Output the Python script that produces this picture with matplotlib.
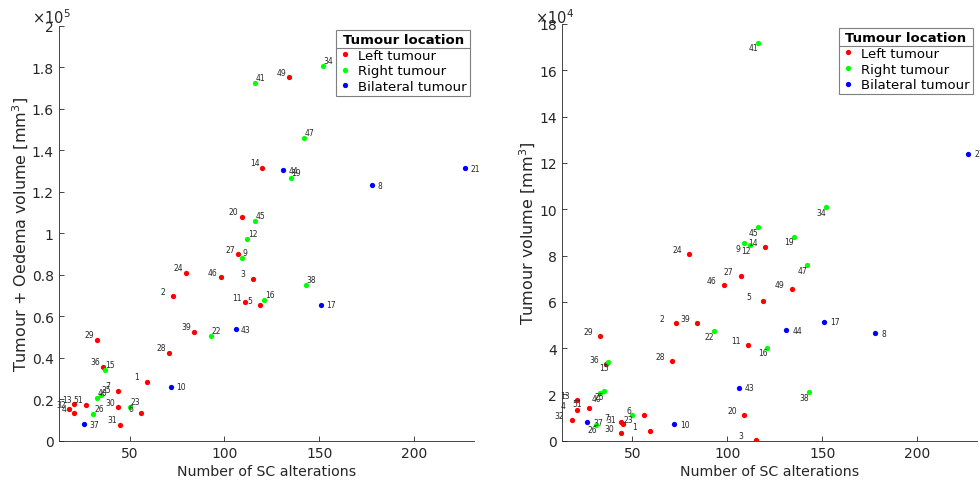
import matplotlib
matplotlib.use('Agg')
import matplotlib.pyplot as plt
from matplotlib.ticker import FuncFormatter, MultipleLocator
from matplotlib.lines import Line2D

# ---------------- data ----------------
subject_ids = [1, 2, 3, 4, 5, 6, 7, 8, 9, 10, 11, 12, 13, 14, 15, 16, 17, 19, 20, 21,
               22, 23, 24, 25, 26, 27, 28, 29, 30, 31, 32, 34, 36, 37, 38, 39, 40, 41,
               43, 44, 45, 46, 47, 49, 51]
location = ['L', 'L', 'L', 'L', 'L', 'L', 'L', 'B', 'R', 'B', 'L', 'R', 'L', 'L', 'R', 'R', 'B', 'R', 'L', 'B',
            'R', 'R', 'L', 'R', 'R', 'L', 'L', 'L', 'L', 'L', 'L', 'R', 'L', 'B', 'R', 'L', 'R', 'R',
            'B', 'B', 'R', 'L', 'R', 'L', 'L']
sc_alterations = [59, 73, 115, 21, 119, 56, 44, 178, 109, 72, 111, 112, 21, 120, 37, 121, 151, 135, 109, 227,
                  93, 50, 80, 35, 31, 107, 71, 33, 44, 45, 18, 152, 36, 26, 143, 84, 33, 116,
                  106, 131, 116, 98, 142, 134, 27]
tumour_oedema_volume = [28400, 69600, 77900, 13200, 65200, 13200, 24100, 123100, 88200, 26000,
                        66700, 97100, 17500, 131600, 34100, 67800, 65500, 126600, 107800, 131400,
                        50500, 16100, 81000, 22000, 12700, 89800, 42400, 48400, 16100, 7600,
                        15100, 180600, 35400, 8000, 74900, 52500, 20700, 172500,
                        53700, 130300, 105900, 78700, 145700, 175100, 17200]
tumour_volume = [4300, 50700, 500, 13100, 60500, 11100, 8200, 46400, 85300, 7200,
                 41200, 84400, 17600, 83800, 33900, 40200, 51400, 88100, 11100, 124000,
                 47300, 11200, 80500, 21300, 6900, 71000, 34300, 45200, 3200, 7300,
                 9100, 100900, 33000, 7900, 21000, 50700, 20500, 171900,
                 22900, 47700, 92300, 67300, 75800, 65500, 14300]

group_keys = ['L', 'R', 'B']
group_names = ['Left tumour', 'Right tumour', 'Bilateral tumour']

# ---------------- style ----------------
colors = {'L': (1, 0, 0), 'R': (0, 1, 0), 'B': (0, 0, 1)}
axis_col = '#262626'
label_col = '#262626'

W, H = 980, 485
fig = plt.figure(figsize=(W / 100, H / 100), dpi=100)
ax1 = fig.add_axes([59.3 / W, 43.3 / H, 414.7 / W, 415.0 / H])
ax2 = fig.add_axes([562.3 / W, 43.3 / H, 414.4 / W, 416.7 / H])

# label offsets in points, per panel and group
offsets = [
    {'L': (-9.1, 3.8), 'R': (0.4, 4.0), 'B': (3.8, 0.0)},
    {'L': (-12.2, 3.2), 'R': (-6.5, -3.6), 'B': (4.5, 0.0)},
]

panels = [
    (ax1, tumour_oedema_volume, 1e5, 'Tumour + Oedema volume [mm$^3$]', (0, 2e5), 0.2e5, r'$\times10^5$'),
    (ax2, tumour_volume, 1e4, 'Tumour volume [mm$^3$]', (0, 18e4), 2e4, r'$\times10^4$'),
]

for pi, (ax, yvals, scale, ylab, ylim, ystep, exptxt) in enumerate(panels):
    for key, name in zip(group_keys, group_names):
        xs = [x for x, g in zip(sc_alterations, location) if g == key]
        ys = [y for y, g in zip(yvals, location) if g == key]
        ax.plot(xs, ys, 'o', color=colors[key], ms=3.8, mec='none', label=name, zorder=3)
    for sid, x, y, g in zip(subject_ids, sc_alterations, yvals, location):
        ax.annotate(str(sid), (x, y), xytext=offsets[pi][g], textcoords='offset points',
                    ha='left', va='center', fontsize=5.5, color=label_col, zorder=4)

    ax.set_xlim(13, 231.5)
    ax.set_ylim(*ylim)
    ax.xaxis.set_major_locator(MultipleLocator(50))
    ax.yaxis.set_major_locator(MultipleLocator(ystep))
    ax.yaxis.set_major_formatter(FuncFormatter(lambda v, p, s=scale: '%g' % round(v / s, 6)))
    for side in ['top', 'right']:
        ax.spines[side].set_visible(False)
    for side in ['left', 'bottom']:
        ax.spines[side].set_color(axis_col)
        ax.spines[side].set_linewidth(0.6)
    ax.tick_params(direction='in', length=3.5, width=0.6, color=axis_col,
                   labelsize=10, labelcolor=axis_col, pad=4)
    ax.set_xlabel('Number of SC alterations', fontsize=10.2, color=axis_col, labelpad=3)
    ax.set_ylabel(ylab, fontsize=11.5, color=axis_col, labelpad=0.5)

    pos = ax.get_position()
    fig.text(pos.x0 - 27 / W, 1 - 18 / H, exptxt, fontsize=10.5, color=axis_col,
             ha='left', va='center')

    leg = ax.legend(loc='upper right', bbox_to_anchor=(1.0, 1.0), borderaxespad=0.3,
                    fontsize=9.5, title='Tumour location', title_fontproperties={'weight': 'bold', 'size': 9.5},
                    handlelength=0.8, handletextpad=0.6, borderpad=0.25, labelspacing=0.2,
                    fancybox=False, edgecolor='#7f7f7f', framealpha=1, markerscale=1.0)
    leg.get_frame().set_linewidth(0.8)
    ax._my_leg = leg

fig.canvas.draw()
renderer = fig.canvas.get_renderer()
for ax in (ax1, ax2):
    leg = ax._my_leg
    lb = leg.get_window_extent(renderer)
    tb = leg.get_title().get_window_extent(renderer)
    yline = tb.y0 - 2
    ln = Line2D([lb.x0, lb.x1], [yline, yline], transform=None, color='#7f7f7f', lw=0.8)
    fig.add_artist(ln)

fig.savefig('out.png', dpi=100)
